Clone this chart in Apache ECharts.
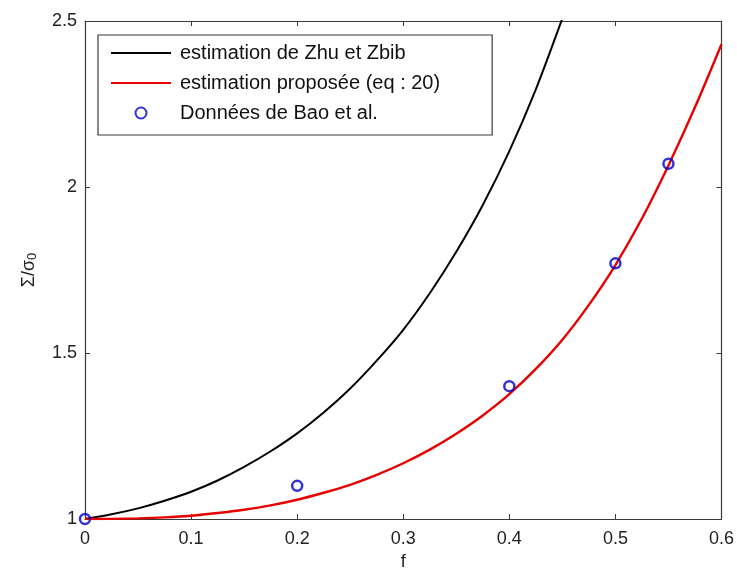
<!DOCTYPE html>
<html>
<head>
<meta charset="utf-8">
<script src="https://cdn.jsdelivr.net/npm/echarts@6/dist/echarts.min.js"></script>
<style>
  html, body { margin: 0; padding: 0; background: #fff; }
  #chart { width: 737px; height: 576px; }
</style>
</head>
<body>
<div id="chart"></div>
<script>
// Porosity f on the horizontal axis
const fZhu = [0, 0.025, 0.05, 0.075, 0.1, 0.125, 0.15, 0.175, 0.2, 0.225, 0.25, 0.275, 0.3, 0.325, 0.35, 0.375, 0.4, 0.425, 0.45, 0.46];
// Zhu & Zbib estimate of Σ/σ0
const sigmaZhu = [1.0, 1.014, 1.032, 1.055, 1.082, 1.116, 1.157, 1.204, 1.258, 1.321, 1.393, 1.477, 1.570, 1.680, 1.805, 1.946, 2.108, 2.294, 2.508, 2.60];

const fProp = [0, 0.025, 0.05, 0.075, 0.1, 0.125, 0.15, 0.175, 0.2, 0.225, 0.25, 0.275, 0.3, 0.325, 0.35, 0.375, 0.4, 0.425, 0.45, 0.475, 0.5, 0.525, 0.55, 0.575, 0.6];
// proposed estimate (eq : 20)
const sigmaProp = [1.0, 1.0003, 1.002, 1.005, 1.010, 1.018, 1.028, 1.041, 1.058, 1.079, 1.103, 1.133, 1.168, 1.209, 1.257, 1.312, 1.376, 1.452, 1.540, 1.645, 1.765, 1.905, 2.065, 2.240, 2.430];

// Bao et al. measurements
const fBao = [0, 0.2, 0.4, 0.5, 0.55];
const sigmaBao = [1.0, 1.10, 1.40, 1.77, 2.07];

const xTicks = { min: 0, max: 0.6, interval: 0.1 };
const yTicks = { min: 1, max: 2.5, interval: 0.5 };

const legendNames = ['estimation de Zhu et Zbib', 'estimation proposée (eq : 20)', 'Données de Bao et al.'];

const zip = (xs, ys) => xs.map((x, i) => [x, ys[i]]);

const FONT = '"Liberation Sans", Arial, Helvetica, sans-serif';
const AXIS_COLOR = '#3a3a3a';

function axisCommon(extra) {
  return Object.assign({
    type: 'value',
    axisLine: { show: true, onZero: false, lineStyle: { color: AXIS_COLOR, width: 1.2 } },
    axisTick: { show: true, inside: true, length: 5, lineStyle: { color: AXIS_COLOR, width: 1 } },
    splitLine: { show: false },
    axisLabel: { show: false }
  }, extra);
}

const chart = echarts.init(document.getElementById('chart'), null, { renderer: 'canvas' });

// line entries in the legend show a plain stroke, no marker
const hiddenMarker = { color: 'rgba(0,0,0,0)', borderColor: 'rgba(0,0,0,0)', borderWidth: 0 };

chart.setOption({
  animation: false,
  backgroundColor: '#ffffff',
  grid: { left: 85, right: 13, top: 21, bottom: 52, containLabel: false },
  xAxis: [
    axisCommon(Object.assign({}, xTicks, {
      position: 'bottom',
      name: 'f',
      nameLocation: 'middle',
      nameGap: 34,
      nameTextStyle: { fontFamily: FONT, fontSize: 18, color: '#222' },
      axisLabel: { show: true, margin: 11, fontFamily: FONT, fontSize: 18, color: '#222' }
    })),
    axisCommon(Object.assign({}, xTicks, { position: 'top' }))
  ],
  yAxis: [
    axisCommon(Object.assign({}, yTicks, {
      position: 'left',
      name: '{s|Σ/σ}{sub|0}',
      nameLocation: 'middle',
      nameGap: 46,
      nameRotate: 90,
      nameTextStyle: {
        fontFamily: FONT, fontSize: 18, color: '#222',
        rich: {
          s: { fontFamily: FONT, fontSize: 18, color: '#222', lineHeight: 20 },
          sub: { fontFamily: FONT, fontSize: 13, color: '#222', lineHeight: 8, verticalAlign: 'bottom' }
        }
      },
      axisLabel: { show: true, margin: 8, fontFamily: FONT, fontSize: 18, color: '#222' }
    })),
    axisCommon(Object.assign({}, yTicks, { position: 'right' }))
  ],
  legend: {
    show: true,
    orient: 'vertical',
    left: 98,
    top: 35,
    padding: [8, 52, 12, 12],
    itemWidth: 60,
    itemHeight: 11,
    itemGap: 10,
    backgroundColor: '#ffffff',
    borderColor: '#3a3a3a',
    borderWidth: 1.2,
    borderRadius: 0,
    textStyle: { fontFamily: FONT, fontSize: 20, color: '#111', lineHeight: 20, padding: [0, 0, 0, 4] },
    data: [
      { name: legendNames[0], itemStyle: hiddenMarker },
      { name: legendNames[1], itemStyle: hiddenMarker },
      { name: legendNames[2] }
    ]
  },
  series: [
    {
      name: legendNames[0],
      type: 'line',
      xAxisIndex: 0, yAxisIndex: 0,
      data: zip(fZhu, sigmaZhu),
      smooth: 0.3,
      symbol: 'none',
      clip: true,
      lineStyle: { color: '#000000', width: 2 },
      itemStyle: { color: '#000000' },
      z: 3
    },
    {
      name: legendNames[1],
      type: 'line',
      xAxisIndex: 0, yAxisIndex: 0,
      data: zip(fProp, sigmaProp),
      smooth: 0.3,
      symbol: 'none',
      clip: true,
      lineStyle: { color: '#e60000', width: 2.4 },
      itemStyle: { color: '#e60000' },
      z: 3
    },
    {
      name: legendNames[2],
      type: 'scatter',
      xAxisIndex: 0, yAxisIndex: 0,
      data: zip(fBao, sigmaBao),
      symbol: 'circle',
      symbolSize: 10,
      clip: false,
      itemStyle: { color: 'rgba(255,255,255,0)', borderColor: '#0000c8', borderWidth: 2.5 },
      z: 4
    }
  ]
});
</script>
</body>
</html>
